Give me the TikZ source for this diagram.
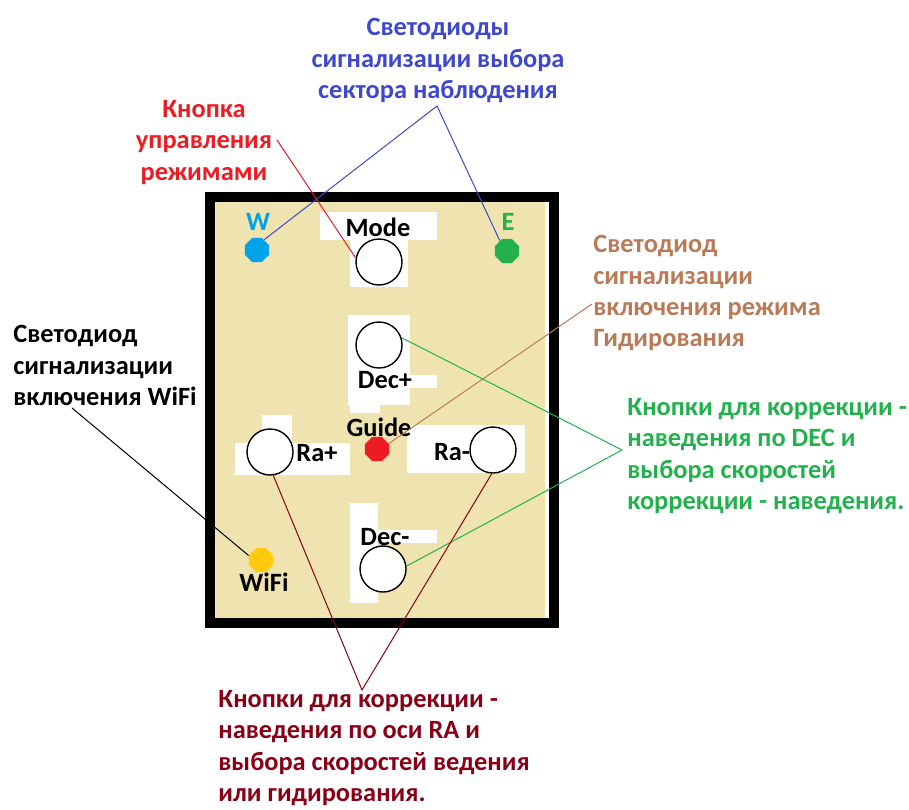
\documentclass[tikz,border=0pt]{standalone}
\usepackage{fontspec}
\setmainfont{Carlito}
\usetikzlibrary{shapes.geometric}

\definecolor{boardtan}{HTML}{EFE4B0}
\definecolor{ledblue}{HTML}{00A2E8}
\definecolor{ledgreen}{HTML}{22B14C}
\definecolor{ledred}{HTML}{ED1C24}
\definecolor{ledyellow}{HTML}{FFC90E}
\definecolor{indigo}{HTML}{3F48CC}
\definecolor{tanbrown}{HTML}{B97A57}
\definecolor{darkred}{HTML}{880015}

\begin{document}
\begin{tikzpicture}[
    x=0.5pt,
    y=-0.5pt,
    every node/.style={font=\bfseries\fontsize{13.2}{15.7}\selectfont},
    btn/.style={circle, draw=black, line width=0.7pt, fill=white, minimum size=23pt, inner sep=0pt},
    led/.style={regular polygon, regular polygon sides=8, minimum size=13pt, inner sep=0pt},
    note/.style={align=left, anchor=north west, inner sep=0pt},
    link/.style={line width=0.5pt}
]
\useasboundingbox (0,0) rectangle (909,809);

% плата
\fill[white] (210,197) rectangle (554,623);
\fill[boardtan] (215,202) rectangle (545,618);

% светлые пятна под надписями
\fill[white] (320,212) rectangle (437,240);
\fill[white] (350,240) rectangle (408,287);
\fill[white] (348,315) rectangle (410,405);
\fill[white] (410,375) rectangle (437,388);
\fill[white] (235,443) rectangle (350,475);
\fill[white] (262,415) rectangle (292,443);
\fill[white] (407,425) rectangle (525,473);
\fill[white] (350,400) rectangle (380,413);
\fill[white] (350,503) rectangle (378,603);
\fill[white] (378,530) rectangle (437,543);

\draw[line width=5pt] (210,197) rectangle (554,623);

% кнопки
\node[btn] (btnMode) at (379,262) {};
\node[btn] (btnDecP) at (379,345) {};
\node[btn] (btnRaP) at (270,452) {};
\node[btn] (btnRaM) at (493,450) {};
\node[btn] (btnDecM) at (383,569) {};

% светодиоды
\node[led, fill=ledblue] (ledW) at (257,250) {};
\node[led, fill=ledgreen] (ledE) at (507,251) {};
\node[led, fill=ledred] (ledGuide) at (377,449) {};
\node[led, fill=ledyellow] (ledWiFi) at (261,560) {};

% подписи на плате
\node[text=ledblue] (lblW) at (258,222) {W};
\node[text=ledgreen] (lblE) at (508,222) {E};
\node (lblMode) at (378,227) {Mode};
\node (lblDecP) at (385,380) {Dec+};
\node (lblGuide) at (379,427) {Guide};
\node (lblRaP) at (317,453) {Ra+};
\node (lblRaM) at (452,452) {Ra-};
\node (lblDecM) at (385,537) {Dec-};
\node (lblWiFi) at (264,582) {WiFi};

% пояснения
\node[note, align=center, anchor=north, text=indigo] (noteSector) at (438,18)
    {Светодиоды\\сигнализации выбора\\сектора наблюдения};
\node[note, align=center, anchor=north, text=ledred] (noteMode) at (204,100)
    {Кнопка\\управления\\режимами};
\node[note, text=tanbrown] (noteGuide) at (593,235)
    {Светодиод\\сигнализации\\включения режима\\Гидирования};
\node[note] (noteWiFi) at (13,325)
    {Светодиод\\сигнализации\\включения WiFi};
\node[note, text=ledgreen] (noteDec) at (627,398)
    {Кнопки для коррекции -\\наведения по DEC и\\выбора скоростей\\коррекции - наведения.};
\node[note, text=darkred] (noteRa) at (218,690)
    {Кнопки для коррекции -\\наведения по оси RA и\\выбора скоростей ведения\\или гидирования.};

% точки схода выносок
\coordinate (tipMode) at (277,140);
\coordinate (tipSector) at (437,106);
\coordinate (tipGuide) at (592,304);
\coordinate (tipDec) at (622,450);
\coordinate (tipWiFi) at (72,408);
\coordinate (tipRa) at (362,690);

% выноски
\draw[link, ledred] (tipMode) -- (btnMode.170);
\draw[link, indigo] (ledW.55) -- (tipSector) -- (ledE.125);
\draw[link, tanbrown] (ledGuide.25) -- (tipGuide);
\draw[link, ledgreen] (btnDecP.18) -- (tipDec) -- (btnDecM.7);
\draw[link, black] (tipWiFi) -- (ledWiFi.160);
\draw[link, darkred] (btnRaP.-82) -- (tipRa) -- (btnRaM.-93);

\end{tikzpicture}
\end{document}
